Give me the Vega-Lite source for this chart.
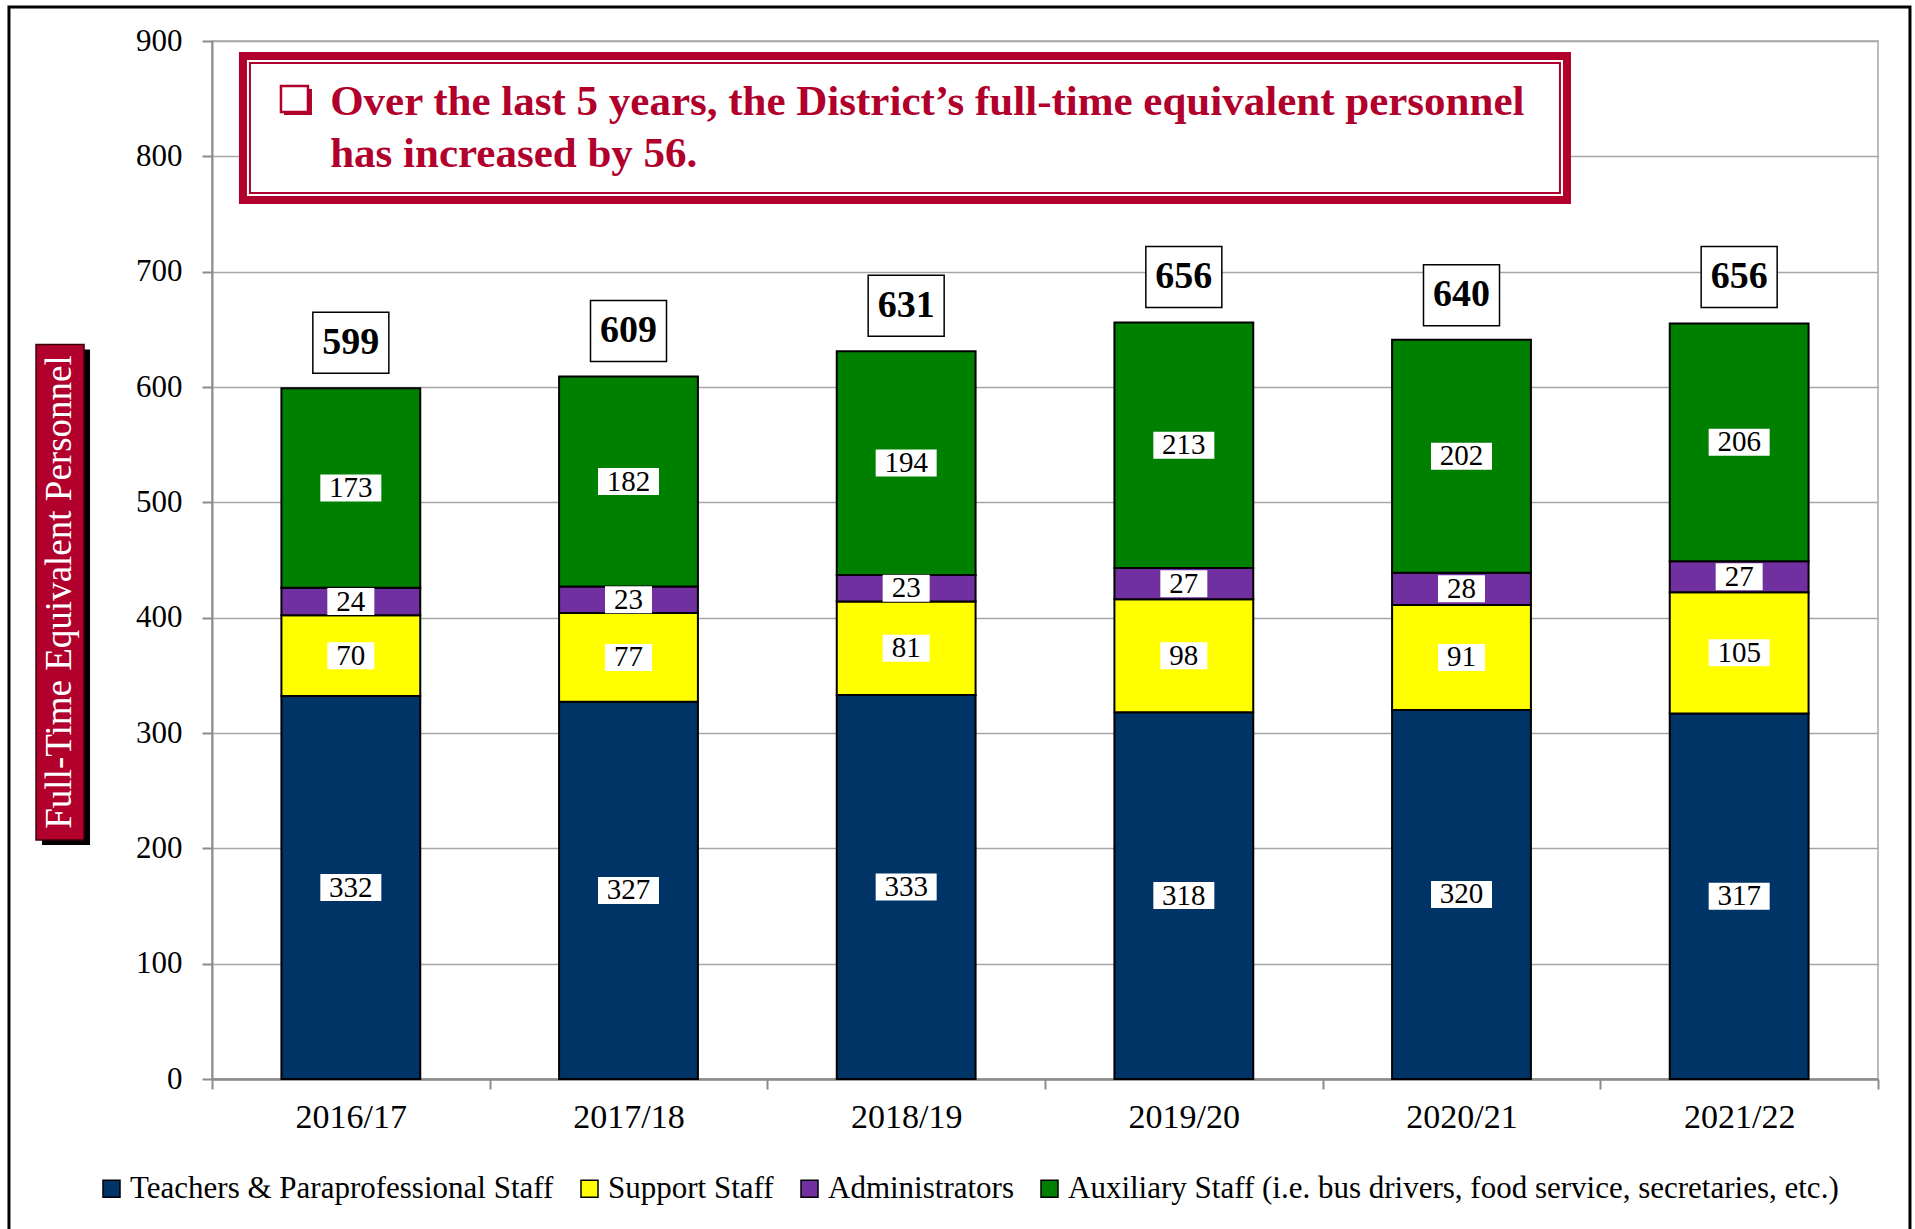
{
  "$schema": "https://vega.github.io/schema/vega-lite/v6.json",
  "width": 1666,
  "height": 1038,
  "autosize": {"type": "none"},
  "padding": {"left": 212, "top": 41, "right": 37, "bottom": 150},
  "background": "white",
  "config": {
    "view": {"stroke": "#a6a6a6", "strokeWidth": 1.5},
    "font": "Liberation Serif"
  },
  "datasets": {
    "staff": [
      {"year": "2016/17", "category": "Teachers & Paraprofessional Staff", "value": 332},
      {"year": "2016/17", "category": "Support Staff", "value": 70},
      {"year": "2016/17", "category": "Administrators", "value": 24},
      {"year": "2016/17", "category": "Auxiliary Staff (i.e. bus drivers, food service, secretaries, etc.)", "value": 173},
      {"year": "2017/18", "category": "Teachers & Paraprofessional Staff", "value": 327},
      {"year": "2017/18", "category": "Support Staff", "value": 77},
      {"year": "2017/18", "category": "Administrators", "value": 23},
      {"year": "2017/18", "category": "Auxiliary Staff (i.e. bus drivers, food service, secretaries, etc.)", "value": 182},
      {"year": "2018/19", "category": "Teachers & Paraprofessional Staff", "value": 333},
      {"year": "2018/19", "category": "Support Staff", "value": 81},
      {"year": "2018/19", "category": "Administrators", "value": 23},
      {"year": "2018/19", "category": "Auxiliary Staff (i.e. bus drivers, food service, secretaries, etc.)", "value": 194},
      {"year": "2019/20", "category": "Teachers & Paraprofessional Staff", "value": 318},
      {"year": "2019/20", "category": "Support Staff", "value": 98},
      {"year": "2019/20", "category": "Administrators", "value": 27},
      {"year": "2019/20", "category": "Auxiliary Staff (i.e. bus drivers, food service, secretaries, etc.)", "value": 213},
      {"year": "2020/21", "category": "Teachers & Paraprofessional Staff", "value": 320},
      {"year": "2020/21", "category": "Support Staff", "value": 91},
      {"year": "2020/21", "category": "Administrators", "value": 28},
      {"year": "2020/21", "category": "Auxiliary Staff (i.e. bus drivers, food service, secretaries, etc.)", "value": 202},
      {"year": "2021/22", "category": "Teachers & Paraprofessional Staff", "value": 317},
      {"year": "2021/22", "category": "Support Staff", "value": 105},
      {"year": "2021/22", "category": "Administrators", "value": 27},
      {"year": "2021/22", "category": "Auxiliary Staff (i.e. bus drivers, food service, secretaries, etc.)", "value": 206}
    ],
    "totals": [
      {"year": "2016/17", "total": 599},
      {"year": "2017/18", "total": 609},
      {"year": "2018/19", "total": 631},
      {"year": "2019/20", "total": 656},
      {"year": "2020/21", "total": 640},
      {"year": "2021/22", "total": 656}
    ]
  },
  "layer": [
    {
      "data": {"values": [{}]},
      "mark": {"type": "point", "filled": false, "opacity": 1, "stroke": "black", "strokeWidth": 3, "size": 40000, "shape": "M-8.972,6.8V-5.53H10.038V6.8"},
      "encoding": {
        "x": {"datum": "2018/19", "type": "nominal"},
        "y": {"datum": 450, "type": "quantitative"}
      }
    },
    {
      "data": {"name": "staff"},
      "transform": [
        {"calculate": "indexof(['Teachers & Paraprofessional Staff','Support Staff','Administrators','Auxiliary Staff (i.e. bus drivers, food service, secretaries, etc.)'], datum.category)", "as": "ord"},
        {"stack": "value", "groupby": ["year"], "sort": [{"field": "ord", "order": "ascending"}], "as": ["v0", "v1"]},
        {"calculate": "(datum.v0 + datum.v1) / 2", "as": "mid"}
      ],
      "layer": [
        {
          "mark": {"type": "bar", "stroke": "black", "strokeWidth": 2, "width": {"band": 0.5}},
          "encoding": {
            "x": {
              "field": "year", "type": "nominal",
              "scale": {"paddingInner": 0, "paddingOuter": 0},
              "axis": {
                "title": null, "labelAngle": 0, "labelAlign": "center", "tickBand": "extent",
                "domainColor": "#8c8c8c", "domainWidth": 2.5,
                "tickColor": "#8c8c8c", "tickWidth": 2, "tickSize": 10,
                "labelFont": "Liberation Serif", "labelFontSize": 34, "labelPadding": 28, "labelColor": "black",
                "grid": false
              }
            },
            "y": {
              "field": "v0", "type": "quantitative",
              "scale": {"domain": [0, 900], "nice": false},
              "axis": {
                "title": null,
                "values": [0, 100, 200, 300, 400, 500, 600, 700, 800, 900],
                "domainColor": "#8c8c8c", "domainWidth": 2,
                "tickColor": "#8c8c8c", "tickWidth": 2, "tickSize": 10,
                "labelFont": "Liberation Serif", "labelFontSize": 31, "labelPadding": 20, "labelColor": "black",
                "grid": true, "gridColor": "#a6a6a6", "gridWidth": 1.5
              }
            },
            "y2": {"field": "v1"},
            "color": {
              "field": "category", "type": "nominal",
              "scale": {
                "domain": ["Teachers & Paraprofessional Staff", "Support Staff", "Administrators", "Auxiliary Staff (i.e. bus drivers, food service, secretaries, etc.)"],
                "range": ["#003366", "#FFFF00", "#7030A0", "#008000"]
              },
              "legend": {
                "title": null, "orient": "none", "legendX": -116, "legendY": 1132,
                "direction": "horizontal", "columns": 4,
                "symbolType": "square", "symbolSize": 289,
                "symbolStrokeColor": "black", "symbolStrokeWidth": 1.5, "symbolOpacity": 1,
                "labelFont": "Liberation Serif", "labelFontSize": 31, "labelColor": "black",
                "labelLimit": 1000, "labelOffset": 3, "columnPadding": 20, "padding": 0
              }
            }
          }
        },
        {
          "mark": {"type": "point", "filled": true, "fill": "white", "strokeWidth": 0, "opacity": 1, "size": 40000},
          "encoding": {
            "x": {"field": "year", "type": "nominal"},
            "y": {"field": "mid", "type": "quantitative"},
            "shape": {
              "condition": {"test": "datum.value >= 100", "value": "M-0.305,-0.135H0.305V0.135H-0.305Z"},
              "value": "M-0.235,-0.135H0.235V0.135H-0.235Z"
            }
          }
        },
        {
          "mark": {"type": "text", "font": "Liberation Serif", "fontSize": 29, "color": "black", "baseline": "middle", "align": "center"},
          "encoding": {
            "x": {"field": "year", "type": "nominal"},
            "y": {"field": "mid", "type": "quantitative"},
            "text": {"field": "value", "type": "nominal"}
          }
        }
      ]
    },
    {
      "data": {"name": "totals"},
      "layer": [
        {
          "mark": {"type": "point", "filled": true, "fill": "white", "stroke": "black", "strokeWidth": 1.5, "opacity": 1, "size": 40000, "shape": "M-0.38,-0.76H0.38V-0.15H-0.38Z"},
          "encoding": {
            "x": {"field": "year", "type": "nominal"},
            "y": {"field": "total", "type": "quantitative"}
          }
        },
        {
          "mark": {"type": "text", "font": "Liberation Serif", "fontSize": 38, "fontWeight": "bold", "color": "black", "baseline": "middle", "align": "center", "dy": -45.5},
          "encoding": {
            "x": {"field": "year", "type": "nominal"},
            "y": {"field": "total", "type": "quantitative"},
            "text": {"field": "total", "type": "nominal"}
          }
        }
      ]
    },
    {
      "data": {"values": [{}]},
      "encoding": {
        "x": {"datum": "2018/19", "type": "nominal"},
        "y": {"datum": 824, "type": "quantitative"}
      },
      "layer": [
        {"mark": {"type": "point", "filled": true, "fill": "white", "stroke": "#B0002B", "strokeWidth": 8, "opacity": 1, "size": 40000, "shape": "M-6.632,-0.7265H6.608V0.7135H-6.632Z"}},
        {"mark": {"type": "point", "filled": false, "stroke": "#B0002B", "strokeWidth": 2, "opacity": 1, "size": 40000, "shape": "M-6.562,-0.6565H6.538V0.6435H-6.562Z"}},
        {"mark": {"type": "point", "filled": true, "fill": "#B0002B", "strokeWidth": 0, "opacity": 1, "size": 40000, "shape": "M-6.222,-0.3965H-5.942V-0.1365H-6.222Z"}},
        {"mark": {"type": "point", "filled": true, "fill": "white", "stroke": "#B0002B", "strokeWidth": 2.5, "opacity": 1, "size": 40000, "shape": "M-6.252,-0.4265H-5.982V-0.1665H-6.252Z"}},
        {"mark": {"type": "text", "text": ["Over the last 5 years, the District’s full-time equivalent personnel", "has increased by 56."], "font": "Liberation Serif", "fontSize": 43, "fontWeight": "bold", "color": "#B0002B", "align": "left", "baseline": "alphabetic", "dx": -576, "dy": -13.65, "lineHeight": 52}}
      ]
    },
    {
      "data": {"values": [{}]},
      "encoding": {
        "x": {"datum": "2016/17", "type": "nominal"},
        "y": {"datum": 450, "type": "quantitative"}
      },
      "layer": [
        {"mark": {"type": "point", "filled": true, "fill": "black", "strokeWidth": 0, "opacity": 1, "size": 40000, "shape": "M-3.088,-2.105H-2.608V2.85H-3.088Z"}},
        {"mark": {"type": "point", "filled": true, "fill": "#B0002B", "stroke": "#3a0008", "strokeWidth": 1.5, "opacity": 1, "size": 40000, "shape": "M-3.148,-2.155H-2.668V2.8H-3.148Z"}},
        {"mark": {"type": "text", "text": "Full-Time Equivalent Personnel", "font": "Liberation Serif", "fontSize": 37, "color": "white", "angle": 270, "align": "center", "baseline": "middle", "dx": -32, "dy": -290.8}}
      ]
    }
  ]
}
